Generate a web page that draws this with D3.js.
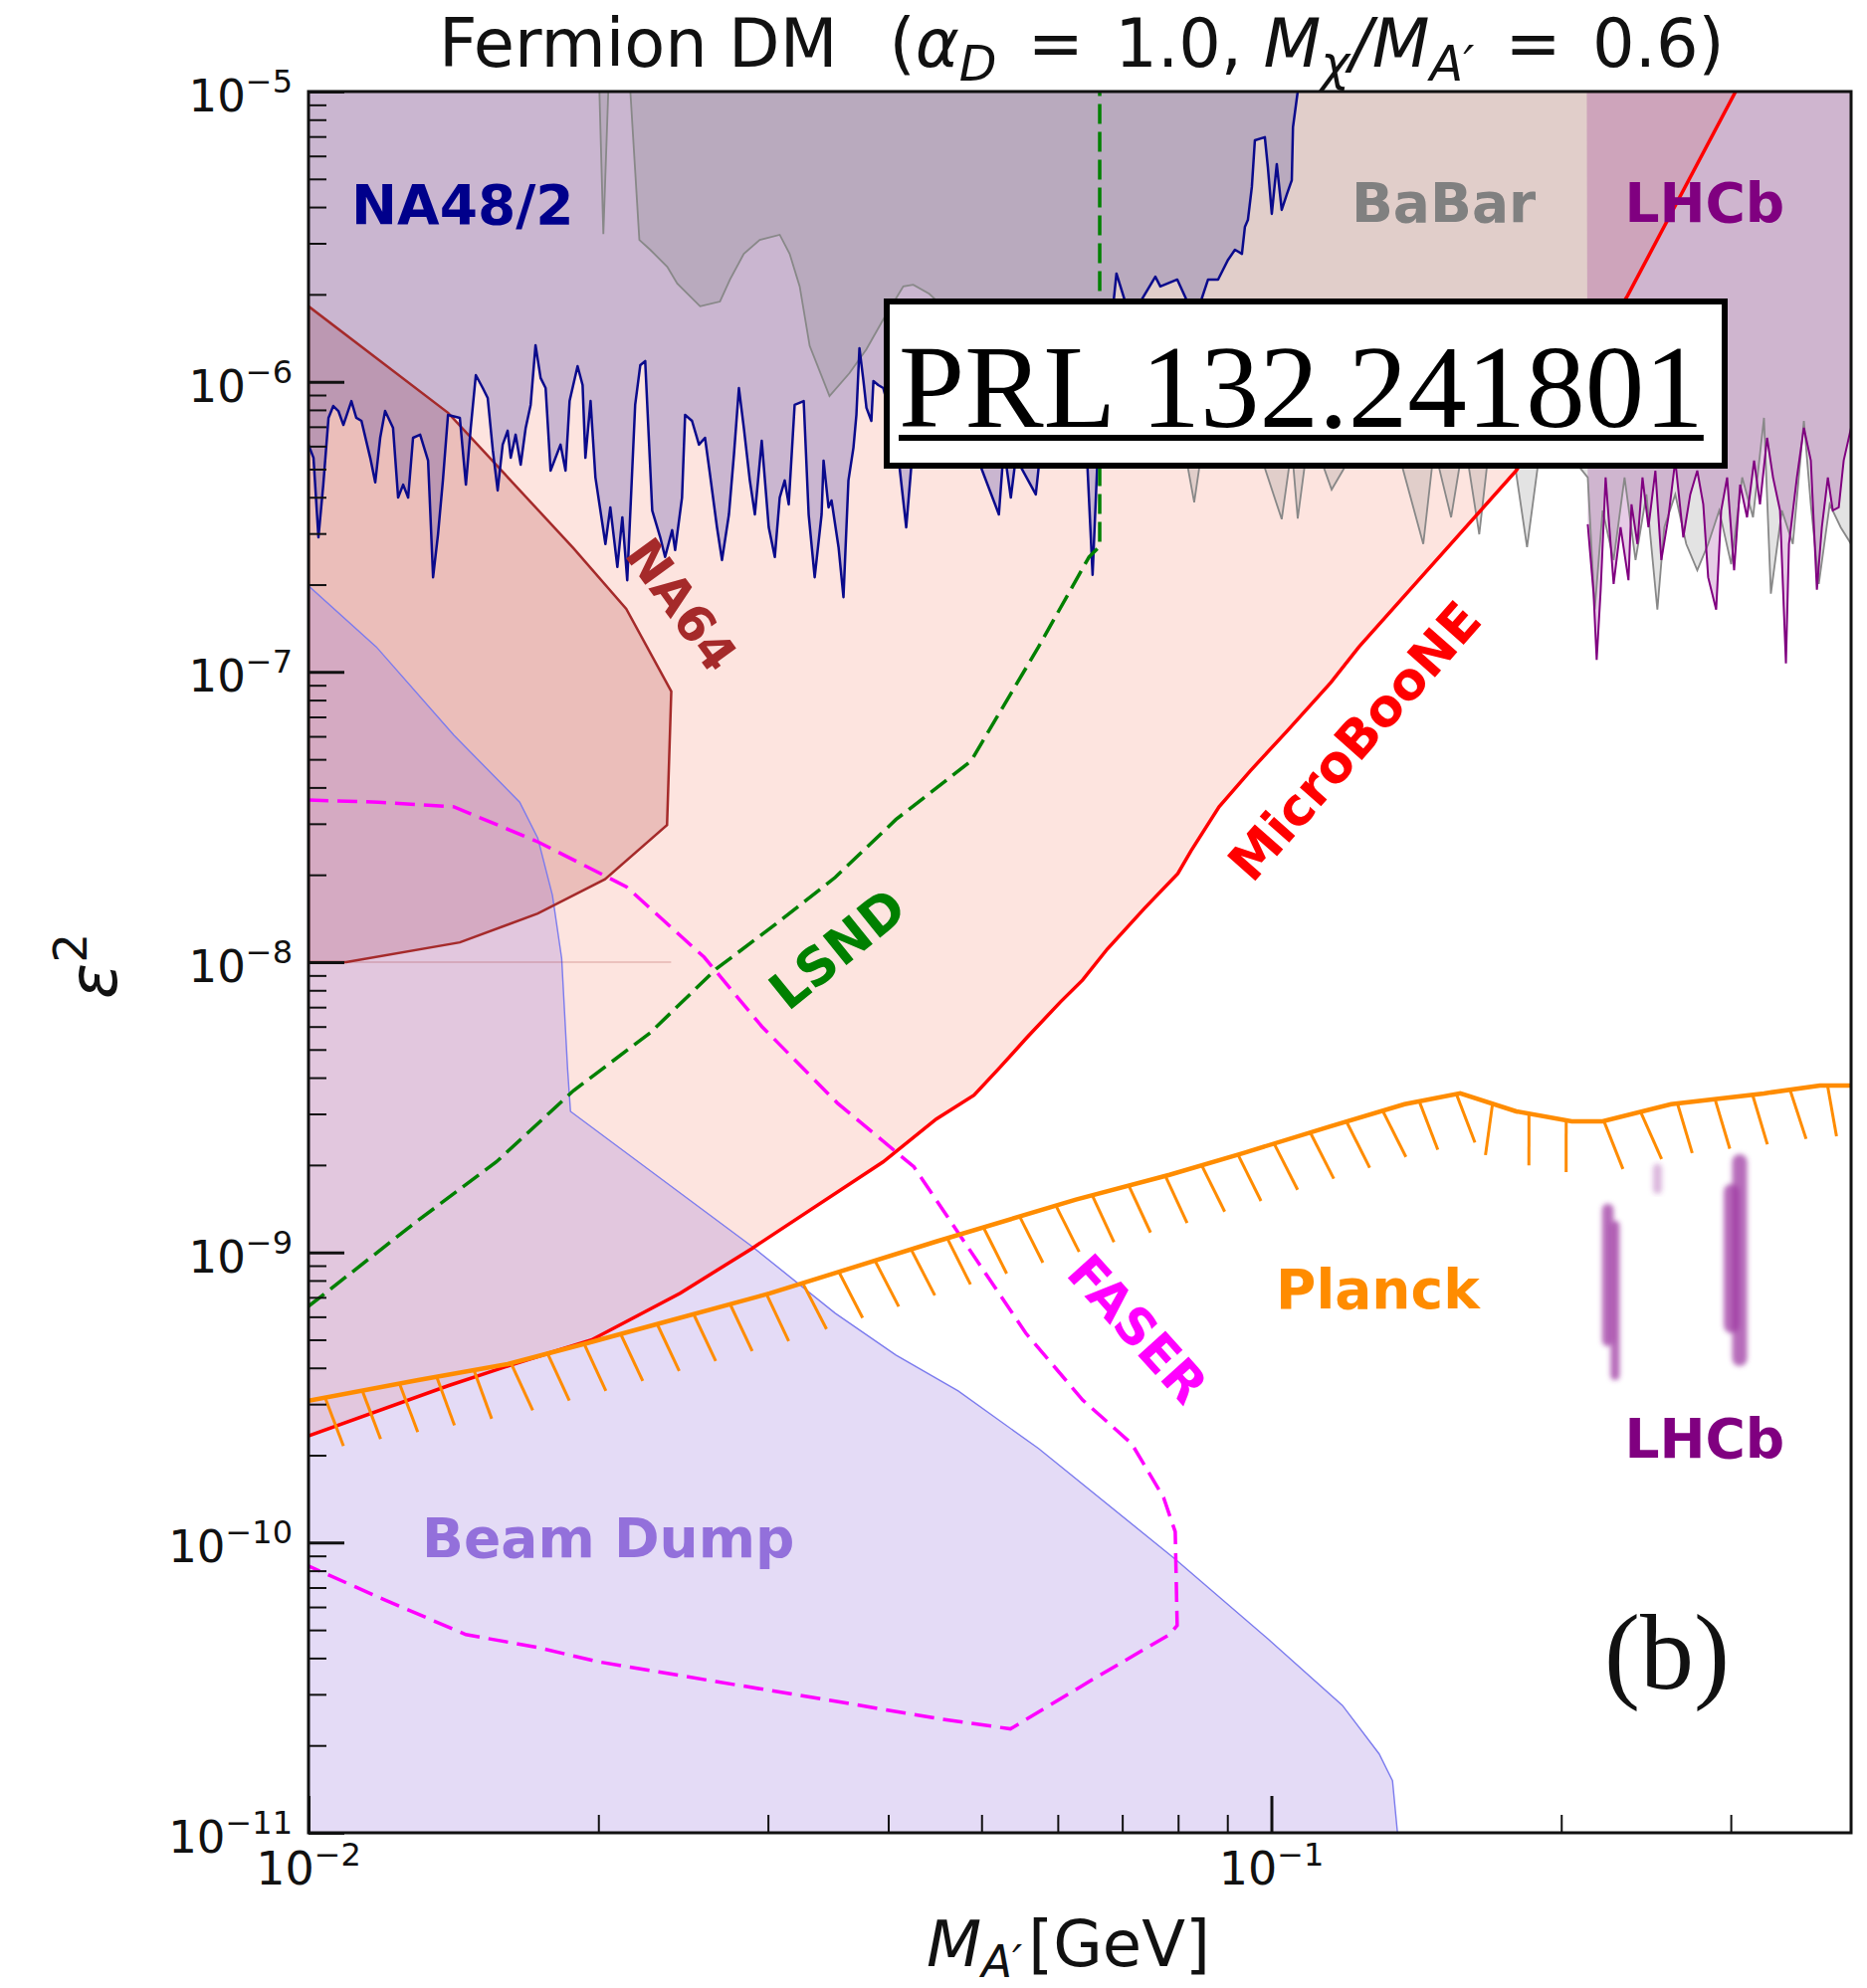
<!DOCTYPE html>
<html>
<head>
<meta charset="utf-8">
<script src="https://cdn.jsdelivr.net/npm/d3@7"></script>
<style>
  body { margin: 0; background: #fff; }
  svg text { font-family: 'DejaVu Sans', sans-serif; white-space: pre; }
  svg text.serif { font-family: 'Liberation Serif', 'Times New Roman', serif; }
</style>
</head>
<body>
<svg id="chart" width="1876" height="1998"></svg>
<script>
// Fermion DM exclusion plot (alpha_D = 1.0, M_chi/M_A' = 0.6)
// every series is [mass in GeV, epsilon^2]

const massRange = [0.01, 0.4];
const epsRange = [1e-11, 1e-5];
const xMajorTicks = [0.01, 0.1];
const xMinorTicks = [0.02, 0.03, 0.04, 0.05, 0.06, 0.07, 0.08, 0.09, 0.2, 0.3];
const yMajorTicks = [1e-5, 1e-6, 1e-7, 1e-8, 1e-9, 1e-10, 1e-11];

const microBooNE = [
  [0.0100, 2.33e-10], [0.01396, 3.47e-10], [0.01633, 4.12e-10], [0.01967, 4.99e-10],
  [0.02432, 7.23e-10], [0.02886, 1.03e-9], [0.03951, 2.05e-9], [0.04487, 2.88e-9],
  [0.04911, 3.48e-9], [0.05212, 4.30e-9], [0.05573, 5.50e-9], [0.06040, 7.30e-9],
  [0.06368, 8.68e-9], [0.06755, 1.11e-8], [0.07379, 1.53e-8], [0.07996, 2.02e-8],
  [0.08252, 2.42e-8], [0.08825, 3.43e-8], [0.09506, 4.56e-8], [0.1038, 6.25e-8],
  [0.1153, 9.20e-8], [0.1233, 1.22e-7], [0.1796, 4.94e-7], [0.2344, 1.98e-6],
  [0.3035, 1.0e-5]
];

const lsnd = [
  [0.0100, 6.52e-10], [0.0130, 1.29e-9], [0.01567, 2.05e-9], [0.01885, 3.61e-9],
  [0.02264, 5.71e-9], [0.02650, 9.47e-9], [0.03055, 1.35e-8], [0.03524, 1.96e-8],
  [0.04074, 3.10e-8], [0.04875, 4.93e-8], [0.05730, 1.22e-7], [0.06466, 2.49e-7],
  [0.06633, 2.71e-7], [0.06633, 1.0e-5]
];

const faser = [
  [0.0100, 3.62e-8], [0.01181, 3.56e-8], [0.01416, 3.43e-8], [0.01730, 2.60e-8],
  [0.02138, 1.82e-8], [0.02576, 1.04e-8], [0.02957, 6.00e-9], [0.03542, 3.27e-9],
  [0.04254, 1.97e-9], [0.04805, 1.08e-9], [0.05558, 5.27e-10], [0.06368, 3.10e-10],
  [0.07161, 2.19e-10], [0.07727, 1.43e-10], [0.07946, 1.09e-10], [0.07983, 5.18e-11],
  [0.07837, 4.82e-11], [0.06546, 3.40e-11], [0.05358, 2.28e-11], [0.04487, 2.48e-11],
  [0.03524, 2.84e-11], [0.02650, 3.32e-11], [0.01995, 3.89e-11], [0.01730, 4.35e-11],
  [0.01457, 4.82e-11], [0.01193, 6.40e-11], [0.0100, 8.30e-11]
];

const na64 = [
  [0.0100, 1.82e-6], [0.01396, 7.82e-7], [0.01884, 2.67e-7], [0.02138, 1.65e-7],
  [0.02381, 8.57e-8], [0.02357, 2.97e-8], [0.02032, 1.93e-8], [0.01730, 1.47e-8],
  [0.01436, 1.17e-8], [0.01094, 1.0e-8], [0.0100, 1.0e-8]
];

const beamDump = [
  [0.0100, 1.98e-7], [0.01176, 1.22e-7], [0.01416, 6.05e-8], [0.01657, 3.56e-8],
  [0.01730, 2.68e-8], [0.01792, 1.70e-8], [0.01832, 1.03e-8], [0.01858, 4.30e-9],
  [0.01871, 3.06e-9], [0.02886, 1.05e-9], [0.03524, 6.17e-10], [0.04074, 4.43e-10],
  [0.04728, 3.33e-10], [0.05730, 2.11e-10], [0.07946, 8.77e-11], [0.09908, 4.67e-11],
  [0.1185, 2.75e-11], [0.1294, 1.87e-11], [0.1336, 1.51e-11], [0.1352, 1.0e-11]
];

const planck = [
  [0.0100, 3.08e-10], [0.0130, 3.63e-10], [0.01610, 4.12e-10], [0.01967, 4.91e-10],
  [0.02297, 5.65e-10], [0.03013, 7.22e-10], [0.04487, 1.09e-9], [0.06266, 1.52e-9],
  [0.07837, 1.85e-9], [0.09354, 2.20e-9], [0.1153, 2.72e-9], [0.1375, 3.24e-9],
  [0.1571, 3.53e-9], [0.1796, 3.06e-9], [0.2051, 2.83e-9], [0.2208, 2.83e-9],
  [0.2601, 3.24e-9], [0.3248, 3.53e-9], [0.3713, 3.76e-9], [0.4000, 3.76e-9]
];

const na48Limit = [
  [0.01000, 6.07e-7], [0.01012, 5.47e-7], [0.01024, 2.91e-7], [0.01036, 4.42e-7],
  [0.01049, 7.51e-7], [0.01061, 8.25e-7], [0.01074, 7.93e-7], [0.01087, 7.10e-7],
  [0.01108, 8.58e-7], [0.01121, 7.51e-7], [0.01135, 7.33e-7], [0.01159, 5.47e-7],
  [0.01173, 4.50e-7], [0.01187, 6.41e-7], [0.01201, 7.93e-7], [0.01224, 6.94e-7],
  [0.01239, 3.99e-7], [0.01254, 4.42e-7], [0.01269, 3.99e-7], [0.01284, 6.41e-7],
  [0.01306, 6.57e-7], [0.01331, 5.35e-7], [0.01347, 2.12e-7], [0.01363, 2.98e-7],
  [0.01379, 4.57e-7], [0.01396, 7.69e-7], [0.01436, 7.51e-7], [0.01457, 4.42e-7],
  [0.01474, 6.94e-7], [0.01492, 1.054e-6], [0.01517, 9.51e-7], [0.01535, 8.79e-7],
  [0.01554, 5.79e-7], [0.01572, 4.22e-7], [0.01591, 6.07e-7], [0.01610, 6.78e-7],
  [0.01622, 5.47e-7], [0.01641, 6.57e-7], [0.01661, 5.18e-7], [0.01681, 6.94e-7],
  [0.01701, 8.32e-7], [0.01721, 1.336e-6], [0.01742, 1.03e-6], [0.01763, 9.51e-7],
  [0.01784, 4.94e-7], [0.01827, 6.07e-7], [0.01849, 4.94e-7], [0.01867, 8.58e-7],
  [0.01903, 1.132e-6], [0.01926, 9.74e-7], [0.01939, 5.47e-7], [0.01963, 8.58e-7],
  [0.01986, 4.68e-7], [0.02034, 2.76e-7], [0.02058, 3.69e-7], [0.02093, 2.30e-7],
  [0.02118, 3.41e-7], [0.02143, 2.07e-7], [0.02184, 8.32e-7], [0.02211, 1.141e-6],
  [0.02237, 1.178e-6], [0.02275, 3.60e-7], [0.02319, 2.91e-7], [0.02346, 2.49e-7],
  [0.02386, 3.08e-7], [0.02403, 2.63e-7], [0.02443, 3.99e-7], [0.02461, 7.69e-7],
  [0.02502, 7.33e-7], [0.02544, 6.07e-7], [0.02581, 6.41e-7], [0.02612, 4.79e-7],
  [0.02656, 3.15e-7], [0.02688, 2.43e-7], [0.02733, 3.49e-7], [0.02766, 5.61e-7],
  [0.02799, 9.51e-7], [0.02832, 6.94e-7], [0.02873, 4.57e-7], [0.02908, 3.49e-7],
  [0.02956, 6.26e-7], [0.03006, 3.15e-7], [0.03050, 2.49e-7], [0.03086, 3.99e-7],
  [0.03123, 4.57e-7], [0.03153, 3.78e-7], [0.03198, 8.32e-7], [0.03268, 8.58e-7],
  [0.03307, 3.49e-7], [0.03355, 2.12e-7], [0.03411, 3.49e-7], [0.03427, 5.35e-7],
  [0.03468, 3.69e-7], [0.03493, 3.90e-7], [0.03552, 2.69e-7], [0.03594, 1.81e-7],
  [0.03637, 4.57e-7], [0.03681, 5.93e-7], [0.03707, 7.69e-7], [0.03734, 1.305e-6],
  [0.03770, 1.006e-6], [0.03797, 8.13e-7], [0.03842, 7.33e-7], [0.03861, 1.006e-6],
  [0.03906, 9.74e-7], [0.03953, 9.51e-7], [0.04078, 6.41e-7], [0.04176, 3.15e-7],
  [0.04226, 5.06e-7], [0.04486, 7.51e-7], [0.04818, 6.94e-7], [0.05212, 3.49e-7],
  [0.05274, 5.93e-7], [0.05363, 3.99e-7], [0.05427, 5.47e-7], [0.05693, 4.09e-7],
  [0.05761, 5.93e-7], [0.06114, 6.94e-7], [0.06413, 6.94e-7], [0.06521, 2.16e-7],
  [0.06599, 5.47e-7], [0.06904, 2.36e-6], [0.07138, 1.65e-6], [0.07577, 2.30e-6],
  [0.07668, 2.13e-6], [0.07985, 2.25e-6], [0.08333, 1.65e-6], [0.08595, 2.25e-6],
  [0.08803, 2.25e-6], [0.09015, 2.63e-6], [0.09166, 2.85e-6], [0.09320, 2.76e-6],
  [0.09387, 3.42e-6], [0.09454, 3.61e-6], [0.09544, 4.69e-6], [0.09613, 6.79e-6],
  [0.09845, 6.96e-6], [0.09916, 5.49e-6], [0.1001, 3.79e-6], [0.1013, 5.62e-6],
  [0.1025, 3.91e-6], [0.1038, 4.44e-6], [0.1050, 4.95e-6], [0.1053, 7.53e-6],
  [0.1065, 1.0e-5]
];

const babarLimit = [
  [0.02005, 1.0e-5], [0.02024, 3.23e-6], [0.02048, 1.0e-5], [0.02159, 1.0e-5],
  [0.02206, 3.08e-6], [0.02264, 2.85e-6], [0.02358, 2.49e-6], [0.02415, 2.18e-6],
  [0.02551, 1.82e-6], [0.02675, 1.89e-6], [0.02740, 2.25e-6], [0.02832, 2.76e-6],
  [0.02942, 3.08e-6], [0.03086, 3.21e-6], [0.03160, 2.76e-6], [0.03237, 2.13e-6],
  [0.03315, 1.33e-6], [0.03476, 8.93e-7], [0.03646, 1.071e-6], [0.03797, 1.295e-6],
  [0.03953, 1.64e-6], [0.04147, 2.13e-6], [0.04247, 2.16e-6], [0.04412, 2.01e-6],
  [0.04818, 1.53e-6], [0.05299, 1.305e-6], [0.05970, 1.114e-6], [0.06725, 1.03e-6],
  [0.07398, 9.51e-7], [0.07945, 8.79e-7], [0.08315, 3.84e-7], [0.08535, 6.94e-7],
  [0.09387, 8.13e-7], [0.1025, 3.36e-7], [0.1050, 5.93e-7], [0.1065, 3.38e-7],
  [0.1096, 6.94e-7], [0.1155, 4.25e-7], [0.1191, 5.06e-7], [0.1342, 6.41e-7],
  [0.1438, 2.76e-7], [0.1476, 5.93e-7], [0.1537, 3.41e-7], [0.1586, 6.41e-7],
  [0.1644, 2.98e-7], [0.1683, 5.93e-7], [0.1786, 5.47e-7], [0.1843, 2.69e-7],
  [0.1896, 5.47e-7], [0.2012, 5.93e-7], [0.2131, 4.68e-7], [0.2167, 1.64e-7],
  [0.2208, 3.60e-7], [0.2267, 2.43e-7], [0.2327, 4.68e-7], [0.2389, 2.43e-7],
  [0.2452, 4.09e-7], [0.2517, 1.64e-7], [0.2559, 3.15e-7], [0.2627, 4.09e-7],
  [0.2697, 2.76e-7], [0.2769, 2.24e-7], [0.2842, 2.76e-7], [0.2918, 3.60e-7],
  [0.3003, 2.35e-7], [0.3083, 4.68e-7], [0.3164, 3.41e-7], [0.3248, 7.51e-7],
  [0.3302, 1.86e-7], [0.3390, 3.60e-7], [0.3480, 2.76e-7], [0.3573, 7.33e-7],
  [0.3633, 3.78e-7], [0.3703, 2.01e-7], [0.3801, 3.78e-7], [0.3902, 3.15e-7],
  [0.4000, 2.76e-7]
];

const lhcbLimit = [
  [0.2126, 1.0e-5], [0.2131, 3.23e-7], [0.2161, 1.86e-7], [0.2177, 1.10e-7],
  [0.2198, 1.92e-7], [0.2224, 4.68e-7], [0.2267, 2.01e-7], [0.2305, 3.15e-7],
  [0.2349, 2.07e-7], [0.2366, 3.78e-7], [0.2400, 2.76e-7], [0.2429, 4.68e-7],
  [0.2464, 3.15e-7], [0.2505, 4.94e-7], [0.2541, 2.43e-7], [0.2584, 3.41e-7],
  [0.2627, 5.35e-7], [0.2678, 2.91e-7], [0.2723, 4.09e-7], [0.2769, 4.94e-7],
  [0.2809, 3.78e-7], [0.2842, 2.12e-7], [0.2897, 1.64e-7], [0.2932, 3.60e-7],
  [0.2974, 4.68e-7], [0.3024, 2.24e-7], [0.3068, 4.42e-7], [0.3119, 3.41e-7],
  [0.3172, 5.35e-7], [0.3217, 3.78e-7], [0.3272, 6.41e-7], [0.3319, 4.68e-7],
  [0.3375, 3.60e-7], [0.3423, 1.07e-7], [0.3448, 2.76e-7], [0.3514, 4.68e-7],
  [0.3573, 6.94e-7], [0.3633, 5.35e-7], [0.3686, 1.92e-7], [0.3730, 3.15e-7],
  [0.3784, 4.68e-7], [0.3829, 3.60e-7], [0.3884, 3.69e-7], [0.3930, 5.35e-7],
  [0.4000, 6.94e-7]
];

// LHCb displaced-search islands: mass span and eps^2 span
const lhcbIslandMass = [[0.2205, 0.2267], [0.2250, 0.2300], [0.2490, 0.2545], [0.2950, 0.3060], [0.3010, 0.3120]];
const lhcbIslandEps = [[4.75e-10, 1.47e-9], [3.63e-10, 1.285e-9], [1.59e-9, 2.02e-9], [5.27e-10, 1.72e-9], [4.06e-10, 2.18e-9]];

// text annotations, anchored in data coordinates
const regionLabels = [
  { text: 'NA48/2', at: [0.01108, 3.50e-6], color: '#00008b' },
  { text: 'BaBar', at: [0.1211, 3.56e-6], color: '#808080' },
  { text: 'LHCb', at: [0.2327, 3.56e-6], color: '#800080' },
  { text: 'LHCb', at: [0.2327, 1.96e-10], color: '#800080' },
  { text: 'Beam Dump', at: [0.01312, 8.92e-11], color: '#9370db' },
  { text: 'Planck', at: [0.1011, 6.42e-10], color: '#ff8c00' }
];
const curveLabels = [
  { text: 'NA64', at: [0.02438, 1.70e-7], angle: 54, color: '#a52a2a', size: 50 },
  { text: 'LSND', at: [0.03544, 1.109e-8], angle: -39, color: '#008000', size: 52 },
  { text: 'MicroBooNE', at: [0.1220, 5.77e-8], angle: -48.6, color: '#ff0000', size: 52 },
  { text: 'FASER', at: [0.07258, 5.44e-10], angle: 48, color: '#ff00ff', size: 51 }
];

const plotLeft = 310, plotRight = 1860, plotTop = 92, plotBottom = 1842;

const svg = d3.select('#chart');
const x = d3.scaleLog().domain(massRange).range([plotLeft, plotRight]);
const y = d3.scaleLog().domain(epsRange).range([plotBottom, plotTop]);
const toPath = d3.line().x(d => x(d[0])).y(d => y(d[1]));
const closed = pts => toPath(pts) + 'Z';

const defs = svg.append('defs');
defs.append('clipPath').attr('id', 'plot-clip')
  .append('rect').attr('x', plotLeft).attr('y', plotTop)
  .attr('width', plotRight - plotLeft).attr('height', plotBottom - plotTop);
defs.append('filter').attr('id', 'soft').attr('x', '-60%').attr('y', '-10%').attr('width', '220%').attr('height', '120%')
  .append('feGaussianBlur').attr('stdDeviation', 2.8);

const plot = svg.append('g').attr('clip-path', 'url(#plot-clip)');

// filled regions
plot.append('path').attr('d', closed(microBooNE.concat([[0.01, 1e-5]]))).attr('fill', '#fde4df');
plot.append('path').attr('d', closed(na64)).attr('fill', '#a52a2a').attr('fill-opacity', 0.2);
plot.append('path').attr('d', closed(beamDump.concat([[0.01, 1e-11]]))).attr('fill', '#9370db').attr('fill-opacity', 0.25);
plot.append('path').attr('d', closed(na48Limit.concat([[0.01, 1e-5]]))).attr('fill', '#000096').attr('fill-opacity', 0.2);
plot.append('path').attr('d', closed(babarLimit.concat([[0.4, 1e-5]]))).attr('fill', '#808080').attr('fill-opacity', 0.22);
plot.append('path').attr('d', closed(lhcbLimit.concat([[0.4, 1e-5]]))).attr('fill', '#800080').attr('fill-opacity', 0.2);

// LHCb islands
lhcbIslandMass.forEach((m, i) => {
  const e = lhcbIslandEps[i];
  const w = x(m[1]) - x(m[0]);
  plot.append('rect')
    .attr('x', x(m[0])).attr('width', w)
    .attr('y', y(e[1])).attr('height', y(e[0]) - y(e[1]))
    .attr('rx', w / 2).attr('ry', w / 2)
    .attr('fill', '#9b30a0')
    .attr('fill-opacity', i === 2 ? 0.35 : 0.72)
    .attr('filter', 'url(#soft)');
});

// boundary lines
plot.append('path').attr('d', toPath(beamDump)).attr('fill', 'none').attr('stroke', '#7b7bee').attr('stroke-width', 1.4);
plot.append('path').attr('d', closed(na64)).attr('fill', 'none').attr('stroke', '#a52a2a').attr('stroke-width', 2.5);
plot.append('line')
  .attr('x1', x(0.01)).attr('x2', x(0.0238)).attr('y1', y(1e-8)).attr('y2', y(1e-8))
  .attr('stroke', '#a52a2a').attr('stroke-opacity', 0.25).attr('stroke-width', 1.5);
plot.append('path').attr('d', toPath(babarLimit)).attr('fill', 'none').attr('stroke', '#888').attr('stroke-width', 1.8);
plot.append('path').attr('d', toPath(lhcbLimit.slice(1))).attr('fill', 'none').attr('stroke', '#800080').attr('stroke-width', 2);
plot.append('path').attr('d', toPath(na48Limit)).attr('fill', 'none').attr('stroke', '#0a0a8c').attr('stroke-width', 2.5).attr('stroke-linejoin', 'round');
plot.append('path').attr('d', toPath(microBooNE)).attr('fill', 'none').attr('stroke', '#ff0000').attr('stroke-width', 3.5);
plot.append('path').attr('d', toPath(lsnd)).attr('fill', 'none').attr('stroke', '#008000').attr('stroke-width', 3.5).attr('stroke-dasharray', '20,8');
plot.append('path').attr('d', toPath(faser)).attr('fill', 'none').attr('stroke', '#ff00ff').attr('stroke-width', 3.5).attr('stroke-dasharray', '20,9');

// Planck bound with hatching on the excluded side
const planckLine = plot.append('path').attr('d', toPath(planck))
  .attr('fill', 'none').attr('stroke', '#ff8c00').attr('stroke-width', 4.5);
const pNode = planckLine.node();
const pLen = pNode.getTotalLength();
const hatch = plot.append('g').attr('stroke', '#ff8c00').attr('stroke-width', 3);
for (let s = 17; s < pLen; s += 38) {
  const a = pNode.getPointAtLength(Math.max(0, s - 2));
  const b = pNode.getPointAtLength(Math.min(pLen, s + 2));
  const p = pNode.getPointAtLength(s);
  const ang = Math.atan2(b.y - a.y, b.x - a.x) + 80 * Math.PI / 180;
  hatch.append('line')
    .attr('x1', p.x).attr('y1', p.y)
    .attr('x2', p.x + 52 * Math.cos(ang)).attr('y2', p.y + 52 * Math.sin(ang));
}

// region labels
regionLabels.forEach(l => {
  svg.append('text')
    .attr('x', x(l.at[0])).attr('y', y(l.at[1]))
    .attr('font-size', 55).attr('font-weight', 'bold')
    .attr('fill', l.color).text(l.text);
});
curveLabels.forEach(l => {
  svg.append('text')
    .attr('transform', `translate(${x(l.at[0])},${y(l.at[1])}) rotate(${l.angle})`)
    .attr('text-anchor', 'middle').attr('dominant-baseline', 'central')
    .attr('font-size', l.size).attr('font-weight', 'bold')
    .attr('fill', l.color).text(l.text);
});

// axes: ticks point into the plot
const styleTicks = (g, w) => {
  g.select('.domain').remove();
  g.selectAll('.tick line').attr('stroke', '#111').attr('stroke-width', w);
  g.selectAll('.tick text').remove();
};
const yMinor = [];
yMajorTicks.slice(1).forEach(v => { for (let k = 2; k <= 9; k++) yMinor.push(v * k); });

svg.append('g').attr('transform', `translate(${plotLeft},0)`)
  .call(d3.axisLeft(y).tickValues(yMajorTicks).tickSize(-36)).call(g => styleTicks(g, 3));
svg.append('g').attr('transform', `translate(${plotLeft},0)`)
  .call(d3.axisLeft(y).tickValues(yMinor).tickSize(-18)).call(g => styleTicks(g, 2));
svg.append('g').attr('transform', `translate(0,${plotBottom})`)
  .call(d3.axisBottom(x).tickValues(xMajorTicks).tickSize(-37)).call(g => styleTicks(g, 3));
svg.append('g').attr('transform', `translate(0,${plotBottom})`)
  .call(d3.axisBottom(x).tickValues(xMinorTicks).tickSize(-18)).call(g => styleTicks(g, 2));

// frame
svg.append('rect').attr('x', plotLeft).attr('y', plotTop)
  .attr('width', plotRight - plotLeft).attr('height', plotBottom - plotTop)
  .attr('fill', 'none').attr('stroke', '#111').attr('stroke-width', 3);

// tick labels as 10^n
const powerLabel = (sel, v) => {
  const n = Math.round(Math.log10(v));
  sel.append('tspan').text('10');
  sel.append('tspan').attr('font-size', 32).attr('dy', -19).text('\u2212' + Math.abs(n));
};
yMajorTicks.forEach(v => {
  svg.append('text').attr('x', 294).attr('y', y(v) + 20)
    .attr('text-anchor', 'end').attr('font-size', 45).attr('fill', '#111')
    .call(s => powerLabel(s, v));
});
xMajorTicks.forEach(v => {
  svg.append('text').attr('x', x(v)).attr('y', 1894)
    .attr('text-anchor', 'middle').attr('font-size', 46).attr('fill', '#111')
    .call(s => powerLabel(s, v));
});

// title (mathtext-like spacing around '=')
const title = svg.append('text').attr('x', 441).attr('y', 67).attr('font-size', 67).attr('fill', '#111');
title.append('tspan').text('Fermion DM');
title.append('tspan').attr('dx', 52).text('(');
title.append('tspan').attr('font-style', 'italic').text('\u03b1');
title.append('tspan').attr('font-style', 'italic').attr('font-size', 49).attr('dy', 14).text('D');
title.append('tspan').attr('dy', -14).attr('dx', 10).text(' = ');
title.append('tspan').attr('dx', 10).text('1.0, ');
title.append('tspan').attr('font-style', 'italic').text('M');
title.append('tspan').attr('font-style', 'italic').attr('font-size', 49).attr('dy', 14).text('\u03c7');
title.append('tspan').attr('dy', -14).attr('font-style', 'italic').text('/');
title.append('tspan').attr('font-style', 'italic').text('M');
title.append('tspan').attr('font-style', 'italic').attr('font-size', 49).attr('dy', 14).text('A\u2032');
title.append('tspan').attr('dy', -14).attr('dx', 10).text(' = ');
title.append('tspan').attr('dx', 10).text('0.6)');

// axis titles
const xTitle = svg.append('text').attr('x', 931).attr('y', 1976).attr('font-size', 64).attr('fill', '#111');
xTitle.append('tspan').attr('font-style', 'italic').text('M');
xTitle.append('tspan').attr('font-style', 'italic').attr('font-size', 45).attr('dy', 11).text('A\u2032');
xTitle.append('tspan').attr('dy', -11).attr('dx', 6).text('[GeV]');

const yTitle = svg.append('text').attr('transform', 'translate(117,971) rotate(-90)')
  .attr('text-anchor', 'middle').attr('font-size', 67).attr('fill', '#111');
yTitle.append('tspan').attr('font-style', 'italic').text('\u03b5');
yTitle.append('tspan').attr('font-size', 47).attr('dy', -30).text('2');

// panel tag
svg.append('text').attr('class', 'serif').attr('x', 1612).attr('y', 1697)
  .attr('font-size', 108).attr('fill', '#111').text('(b)');

// reference box
svg.append('rect').attr('x', 891).attr('y', 303).attr('width', 842).attr('height', 165)
  .attr('fill', '#fff').attr('stroke', '#000').attr('stroke-width', 6);
const ref = svg.append('text').attr('class', 'serif').attr('x', 903).attr('y', 429)
  .attr('font-size', 119).attr('fill', '#000')
  .text('PRL 132.241801');
const refLen = ref.node().getComputedTextLength();
svg.append('line').attr('x1', 903).attr('x2', 903 + refLen).attr('y1', 440).attr('y2', 440)
  .attr('stroke', '#000').attr('stroke-width', 6);
</script>
</body>
</html>
